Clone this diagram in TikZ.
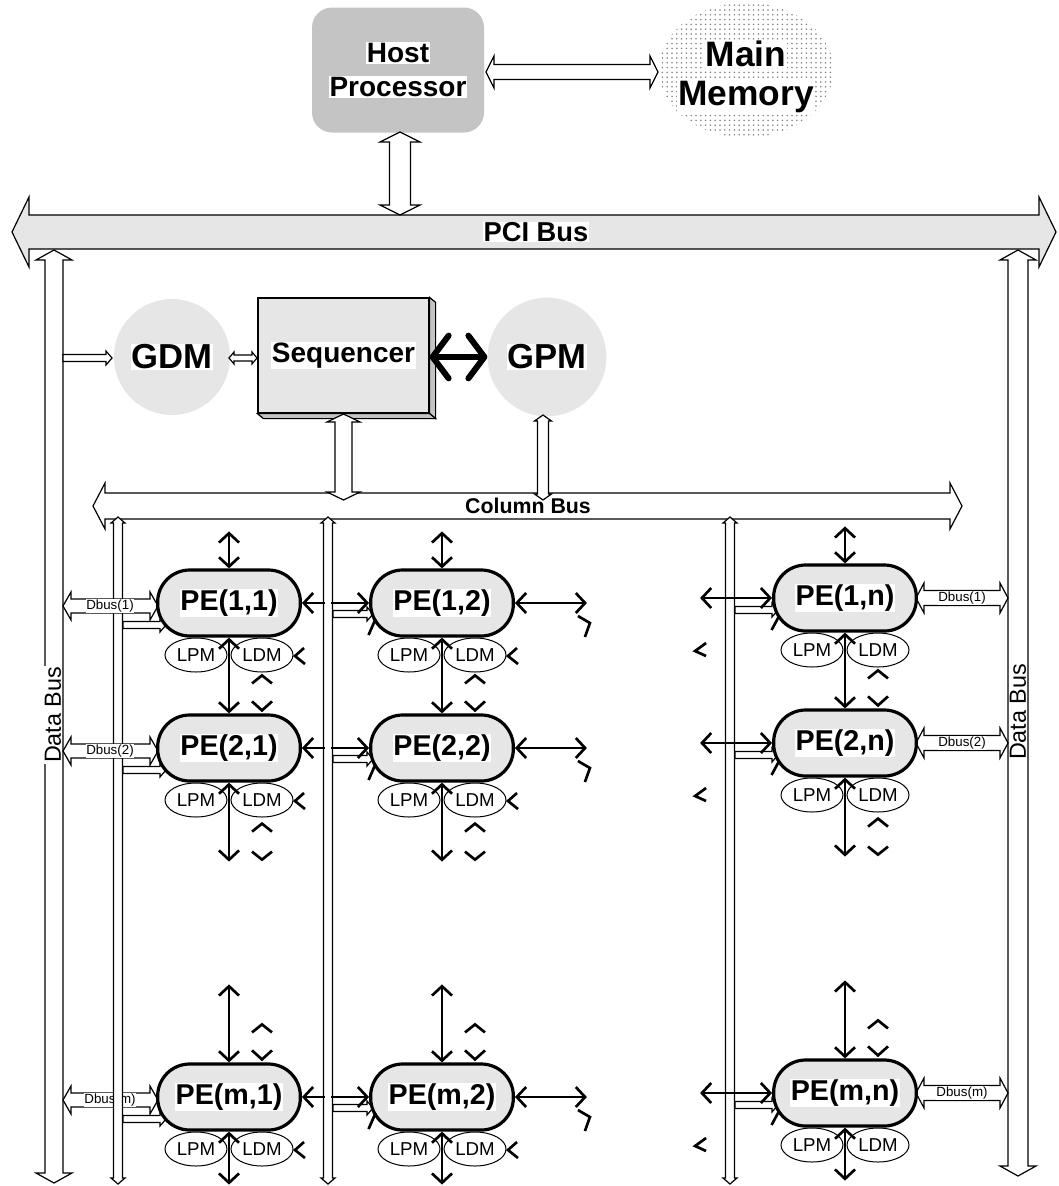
\documentclass[tikz,border=0pt]{standalone}
\usepackage{fontspec}
\setmainfont{Liberation Sans}
\usetikzlibrary{arrows.meta,shapes.geometric,calc,patterns}
\definecolor{lightfill}{HTML}{E6E6E6}
\definecolor{hostfill}{HTML}{C4C4C4}
\definecolor{sidefill}{HTML}{C4C4C4}
\pgfdeclarepatternformonly{memdots}{\pgfqpoint{-1pt}{-1pt}}{\pgfqpoint{1pt}{1pt}}{\pgfqpoint{3.6pt}{3.6pt}}{\pgfpathcircle{\pgfqpoint{0pt}{0pt}}{0.65pt}\pgfusepath{fill}}
\newcommand{\wb}[1]{{\setlength{\fboxsep}{0.6pt}\colorbox{white}{#1}}}
% horizontal double hollow arrow: [opts]{x1}{x2}{y}{half shaft}{half head}{head length}
\newcommand{\hdarrow}[7][]{%
  \draw[hollow,#1] (#2,#4) -- (#2+#7,#4-#6) -- (#2+#7,#4-#5) -- (#3-#7,#4-#5) -- (#3-#7,#4-#6) -- (#3,#4) -- (#3-#7,#4+#6) -- (#3-#7,#4+#5) -- (#2+#7,#4+#5) -- (#2+#7,#4+#6) -- cycle;}
% vertical double hollow arrow: [opts]{x}{y1}{y2}{half shaft}{half head}{head length}
\newcommand{\vdarrow}[7][]{%
  \draw[hollow,#1] (#2,#3) -- (#2+#6,#3+#7) -- (#2+#5,#3+#7) -- (#2+#5,#4-#7) -- (#2+#6,#4-#7) -- (#2,#4) -- (#2-#6,#4-#7) -- (#2-#5,#4-#7) -- (#2-#5,#3+#7) -- (#2-#6,#3+#7) -- cycle;}
% horizontal single (rightward) hollow arrow
\newcommand{\hrarrow}[7][]{%
  \draw[hollow,#1] (#2,#4-#5) -- (#3-#7,#4-#5) -- (#3-#7,#4-#6) -- (#3,#4) -- (#3-#7,#4+#6) -- (#3-#7,#4+#5) -- (#2,#4+#5) -- cycle;}
\begin{document}
\begin{tikzpicture}[x=0.75pt,y=-0.75pt,
  >={Straight Barb[length=7pt,width=15pt]},
  hollow/.style={draw=black,line width=0.9pt,fill=white,line join=miter},
  conn/.style={line width=2pt},
  thickarr/.style={line width=4.5pt,arrows={Straight Barb[round,length=12pt,width=32pt]-Straight Barb[round,length=12pt,width=32pt]}},
  pe/.style={draw,line width=2.4pt,fill=lightfill,rounded corners=24pt,minimum width=107pt,minimum height=49.5pt,inner sep=0pt,font=\bfseries\fontsize{21.5}{24}\selectfont},
  lmem/.style={ellipse,draw,line width=0.75pt,minimum width=46.5pt,minimum height=25.5pt,inner sep=0pt,font=\fontsize{14}{16}\selectfont},
  dbl/.style={fill=white,inner sep=0.4pt,font=\fontsize{10}{11}\selectfont},
  buslbl/.style={fill=white,inner sep=0.5pt},
  gcirc/.style={circle,fill=lightfill,inner sep=0pt,font=\bfseries\fontsize{26}{28}\selectfont}]
\useasboundingbox (0,0) rectangle (1058,1186);
\fill[white] (0,0) rectangle (1058,1186);

% ---------- top ----------
\node[fill=hostfill,rounded corners=15pt,minimum width=129pt,minimum height=93.75pt,align=center,font=\bfseries\fontsize{21}{25.5}\selectfont] (host) at (398,70) {\wb{Host}\\\wb{Processor}};
\node[ellipse,pattern=memdots,pattern color=gray,minimum width=131pt,minimum height=101pt] (mmem) at (746,70) {};
\node[align=center,font=\bfseries\fontsize{26.5}{29}\selectfont] (memlbl) at (746,77) {\wb{Main}\\\wb{Memory}};
\hdarrow{486}{658}{72}{7.5}{16}{8}

% PCI bus
\hdarrow[fill=lightfill]{12}{1056}{232}{17}{35}{17}
\node[buslbl,font=\bfseries\fontsize{20.5}{22}\selectfont] (pcilbl) at (536,232) {PCI Bus};
\vdarrow{400}{132}{215}{10.5}{20}{10}

% data buses
\vdarrow{54}{250}{1183}{9}{18}{10}
\vdarrow{1018}{250}{1176}{10}{18}{10}
\node[buslbl,rotate=90,font=\fontsize{17.5}{20}\selectfont] (dbusleft) at (53,715) {Data Bus};
\node[buslbl,rotate=90,font=\fontsize{17.5}{20}\selectfont] (dbusright) at (1018,712) {Data Bus};

% ---------- control ----------
\node[gcirc,minimum size=87pt] (gdm) at (172,357) {\wb{GDM}};
\node[gcirc,minimum size=89pt] (gpm) at (547,357) {\wb{GPM}};
\node[draw,line width=0.9pt,fill=lightfill,minimum width=128.25pt,minimum height=86.25pt,inner sep=0pt,font=\bfseries\fontsize{21}{22}\selectfont] (seq) at (343.5,355.5) {\wb{Sequencer}};
\filldraw[fill=sidefill,line width=0.9pt] (seq.north east) -- ++(6,5) -- ($(seq.south east)+(6,5)$) -- (seq.south east) -- cycle;
\filldraw[fill=sidefill,line width=0.9pt] (seq.south west) -- ++(6,5) -- ($(seq.south east)+(6,5)$) -- (seq.south east) -- cycle;
\draw[thickarr] (seq.east |- gpm.west) -- (gpm.west);
\hrarrow{63}{112}{358}{3.5}{7}{6}
\hdarrow{229}{257}{358}{3}{6}{5}

% column bus
\hdarrow{93}{962}{506}{13}{23}{12}
\node[buslbl,font=\bfseries\fontsize{16}{18}\selectfont] (collbl) at (528,506) {Column Bus};
\vdarrow{343.5}{414}{500}{8.5}{16.5}{8}
\vdarrow{543}{415}{500}{5.5}{8.5}{6}

% Dbus(m) left (lies under the column line)
\hdarrow{63}{158}{1100}{7}{14}{8}
\node[dbl] (dbuslm) at (110,1100) {Dbus(m)};

% column vertical buses
\vdarrow{118}{517}{1184}{4.5}{7}{6}
\vdarrow{328}{517}{1184}{4.5}{7}{6}
\vdarrow{730}{517}{1184}{4.5}{7}{6}

% Dbus arrows and column-to-PE hollow arrows
\foreach \ri/\y in {1/606,2/751}{
  \hdarrow{63}{158}{\y}{7}{14}{8}
  \node[dbl] (dbusl\ri) at (110,\y) {Dbus(\ri)};
}
\foreach \ri/\y in {1/603,2/748,m/1097}{
  \hrarrow{123}{166}{\y+22}{3.5}{7}{6}
  \hrarrow{333}{373}{\y+11}{3.5}{7}{6}
}
\foreach \ri/\y in {1/598,2/743,m/1093}{
  \hdarrow{916}{1008}{\y}{7.5}{15}{8}
  \node[dbl] (dbusr\ri) at (962,\y) {Dbus(\ri)};
  \hrarrow{735}{778}{\y+12}{3.5}{7}{6}
}

% ---------- PE array ----------
\foreach \ri/\y in {1/603,2/748,m/1097}{
  \foreach \ci/\x in {1/229,2/442}{
    \node[pe] (pe\ri\ci) at (\x,\y) {\wb{PE(\ri,\ci)}};
    \node[lmem] (lpm\ri\ci) at (\x-33,\y+52) {LPM};
    \node[lmem] (ldm\ri\ci) at (\x+33,\y+52) {LDM};
  }
}
\foreach \ri/\y in {1/598,2/743,m/1093}{
  \node[pe] (pe\ri n) at (845,\y) {\wb{PE(\ri,n)}};
  \node[lmem] (lpm\ri n) at (812,\y+52) {LPM};
  \node[lmem] (ldm\ri n) at (878,\y+52) {LDM};
}

% horizontal links
\foreach \ri in {1,2,m}{
  \draw[conn,<-] (pe\ri1.east) -- ++(23,0);
  \draw[conn,<-] (pe\ri2.west) -- ++(-38,0);
  \draw[conn,<->] (pe\ri2.east) -- ++(72,0);
  \draw[conn,<->] (pe\ri n.west) -- ++(-72,0);
}
% vertical links
\foreach \ci in {1,2,n}{
  \draw[conn,<->] (pe1\ci.north) -- ++(0,-37);
  \draw[conn,<->] (pe1\ci.south) -- (pe2\ci.north);
  \draw[conn,<->] (pe2\ci.south) -- ++(0,79);
  \draw[conn,<->] (pem\ci.north) -- ++(0,-78);
  \draw[conn,<->] (pem\ci.south) -- ++(0,53);
}
% broken arrow fragments
\foreach \ci in {1,2,n}{
  \foreach \ri in {2,m}{
    \draw[conn] ($(pe\ri\ci.north)+(23,-12)$) -- ++(10,9) -- ++(10,-9);
    \draw[conn] ($(pe\ri\ci.north)+(23,-30)$) -- ++(10,-8) -- ++(10,8);
  }
  \draw[conn] ($(pe2\ci.south)+(23,49)$) -- ++(10,-8) -- ++(10,8);
  \draw[conn] ($(pe2\ci.south)+(23,69)$) -- ++(10,8) -- ++(10,-8);
}
\foreach \ri in {1,2,m}{
  \foreach \ci in {1,2}{
    \draw[conn] ($(ldm\ri\ci)+(42,-7)$) -- ++(-9,8) -- ++(10,8);
  }
  \draw[conn] ($(pe\ri2.east)+(63,13)$) -- ++(12,7) -- ++(-5,14);
  \draw[conn] ($(pe\ri2.west)+(-0.5,32)$) -- ++(7,-16);
  \draw[conn] ($(pe\ri n.west)+(-0.5,32)$) -- ++(7,-13);
  \draw[conn] ($(pe\ri n.west)+(-66,45)$) -- ++(-11,8) -- ++(11,5);
}
\end{tikzpicture}
\end{document}
